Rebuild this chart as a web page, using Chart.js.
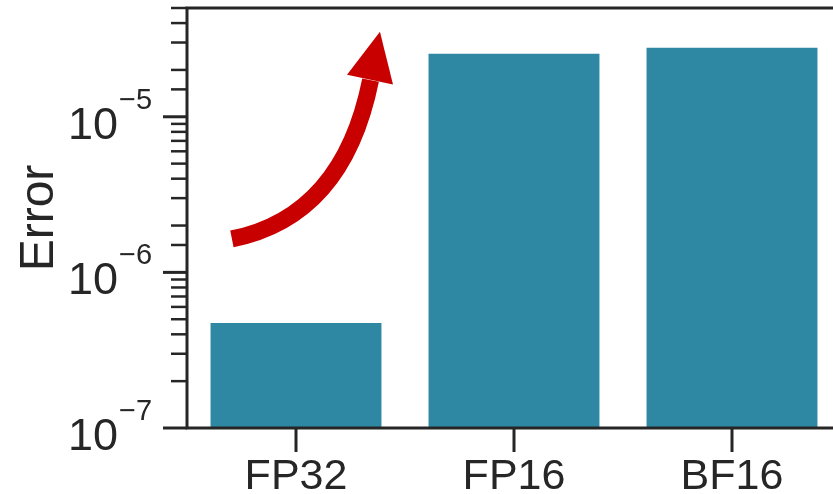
<!DOCTYPE html>
<html>
<head>
<meta charset="utf-8">
<script src="https://cdn.jsdelivr.net/npm/chart.js@4"></script>
<style>
  html, body { margin: 0; padding: 0; background: #fff; overflow: hidden; }
  #wrap { width: 850px; height: 494px; }
</style>
</head>
<body>
<div id="wrap"><canvas id="myChart" width="850" height="494"></canvas></div>
<script>
/* globals Chart:false */
const categories = ['FP32', 'FP16', 'BF16']
const errorValues = [4.73e-7, 2.54e-5, 2.78e-5]
const yTickExponents = [-7, -6, -5]
const yMin = 1e-7
const yMax = 5e-5

// curved arrow, in (category index, value) coordinates
const arrowTail = [-0.294, 1.64e-6]
const arrowCtrl = [0.216, 2.28e-6]
const arrowEnd = [0.342, 1.72e-5]
const arrowTip = [0.385, 3.52e-5]
const arrowHeadL = [0.234, 1.86e-5]
const arrowHeadR = [0.445, 1.61e-5]

const ink = '#262626'
const fontFamily = '"Liberation Sans", Arial, sans-serif'

const decor = {
  id: 'decor',
  afterDraw (chart) {
    const { ctx, chartArea: a, scales: { x, y } } = chart
    ctx.save()

    // arrow
    const P = p => [x.getPixelForValue(p[0]), y.getPixelForValue(p[1])]
    const t = P(arrowTail), c = P(arrowCtrl), e = P(arrowEnd)
    ctx.strokeStyle = '#c80000'
    ctx.fillStyle = '#c80000'
    ctx.lineWidth = 17
    ctx.lineCap = 'butt'
    ctx.beginPath()
    ctx.moveTo(t[0], t[1])
    ctx.quadraticCurveTo(c[0], c[1], e[0], e[1])
    ctx.stroke()
    const tip = P(arrowTip), hl = P(arrowHeadL), hr = P(arrowHeadR)
    ctx.beginPath()
    ctx.moveTo(tip[0], tip[1])
    ctx.lineTo(hr[0], hr[1])
    ctx.lineTo(hl[0], hl[1])
    ctx.closePath()
    ctx.fill()

    // spines
    ctx.strokeStyle = ink
    ctx.lineWidth = 3
    ctx.lineCap = 'square'
    ctx.beginPath()
    ctx.moveTo(chart.width, a.top)
    ctx.lineTo(a.left, a.top)
    ctx.lineTo(a.left, a.bottom)
    ctx.lineTo(chart.width, a.bottom)
    ctx.stroke()

    // y ticks
    ctx.lineCap = 'butt'
    y.ticks.forEach(tk => {
      const py = y.getPixelForValue(tk.value)
      const lg = Math.log10(tk.value)
      const major = Math.abs(lg - Math.round(lg)) < 1e-9
      ctx.lineWidth = major ? 3 : 2.5
      ctx.beginPath()
      ctx.moveTo(a.left - (major ? 24 : 16), py)
      ctx.lineTo(a.left, py)
      ctx.stroke()
    })

    // y tick labels 10^n
    ctx.fillStyle = ink
    ctx.textBaseline = 'alphabetic'
    yTickExponents.forEach(n => {
      const py = y.getPixelForValue(Math.pow(10, n))
      ctx.font = '45px ' + fontFamily
      ctx.textAlign = 'right'
      ctx.fillText('10', 118, py + 22)
      ctx.font = '29px ' + fontFamily
      ctx.textAlign = 'left'
      ctx.fillText('\u2212' + Math.abs(n), 119, py - 8)
    })

    // x ticks
    ctx.lineWidth = 3
    categories.forEach((cat, i) => {
      const px = x.getPixelForValue(i)
      ctx.beginPath()
      ctx.moveTo(px, a.bottom)
      ctx.lineTo(px, a.bottom + 24)
      ctx.stroke()
    })

    // y title
    ctx.font = '48px ' + fontFamily
    ctx.textAlign = 'center'
    ctx.textBaseline = 'alphabetic'
    ctx.translate(53, (a.top + a.bottom) / 2)
    ctx.rotate(-Math.PI / 2)
    ctx.fillText('Error', 0, 0)
    ctx.restore()
  }
}

const ctx = document.getElementById('myChart')
// eslint-disable-next-line no-unused-vars
const myChart = new Chart(ctx, {
  type: 'bar',
  data: {
    labels: categories,
    datasets: [{
      data: errorValues,
      backgroundColor: '#2e88a3',
      borderWidth: 0,
      barPercentage: 0.784,
      categoryPercentage: 1
    }]
  },
  options: {
    responsive: false,
    animation: false,
    devicePixelRatio: 1,
    layout: { padding: { top: 8, right: 9, left: 0, bottom: 0 } },
    plugins: {
      legend: { display: false },
      tooltip: { enabled: false }
    },
    scales: {
      x: {
        grid: { display: false },
        border: { display: false },
        ticks: {
          color: ink,
          font: { family: fontFamily, size: 43 },
          padding: 15,
          maxRotation: 0
        },
        afterFit: s => { s.height = 66 }
      },
      y: {
        type: 'logarithmic',
        min: yMin,
        max: yMax,
        grid: { display: false },
        border: { display: false },
        ticks: { display: false },
        afterFit: s => { s.width = 187 }
      }
    }
  },
  plugins: [decor]
})
</script>
</body>
</html>
